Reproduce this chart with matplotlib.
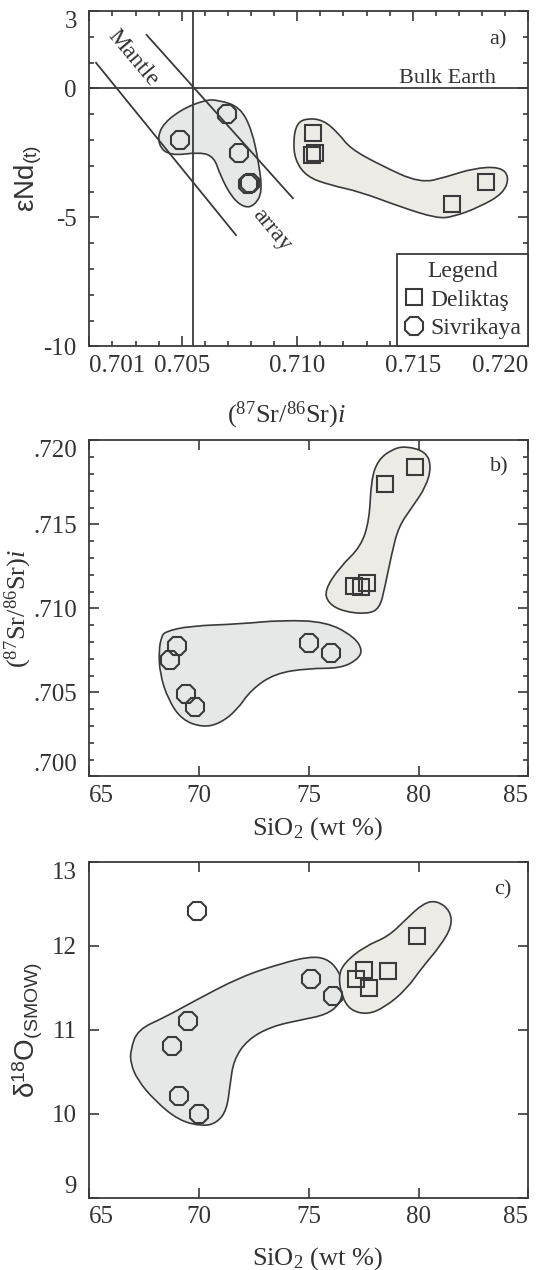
import numpy as np
import matplotlib
matplotlib.use("Agg")
import matplotlib.pyplot as plt
from matplotlib.path import Path
from matplotlib.patches import PathPatch
from matplotlib.ticker import MultipleLocator, FixedLocator, FixedFormatter

plt.rcParams["font.family"] = ["Liberation Serif", "DejaVu Serif"]
plt.rcParams["mathtext.fontset"] = "custom"
plt.rcParams["mathtext.rm"] = "Liberation Serif"
plt.rcParams["mathtext.it"] = "Liberation Serif:italic"
plt.rcParams["mathtext.sf"] = "Liberation Sans"
plt.rcParams["axes.unicode_minus"] = False

INK = "#3a3a3a"
TXT = "#333333"
FILL_SIV = "#e6e8e8"
FILL_DEL = "#ecebe6"

# --- a) initial 87Sr/86Sr vs eNd(t)
deliktas_sr_a = [0.71070, 0.71077, 0.71063, 0.71671, 0.71817]
deliktas_end = [-1.74, -2.52, -2.59, -4.48, -3.62]
sivrikaya_sr_a = [0.70493, 0.70695, 0.70749, 0.70788, 0.70795]
sivrikaya_end = [-2.00, -1.00, -2.52, -3.72, -3.66]

mantle_sr = [[0.70129, 0.70735], [0.70348, 0.70981]]
mantle_end = [[0.99, -5.69], [2.07, -4.26]]
bulk_earth_sr = 0.7055
bulk_earth_end = 0.0

siv_outline_a_x = [0.70657, 0.70752, 0.70804, 0.70835, 0.70848, 0.70817, 0.70774, 0.70718,
                   0.70666, 0.70640, 0.70579, 0.70449, 0.70397, 0.70406, 0.70493, 0.70601]
siv_outline_a_y = [-0.45, -0.72, -1.62, -2.97, -4.02, -4.52, -4.64, -4.25,
                   -3.36, -2.66, -2.47, -2.62, -2.20, -1.50, -0.84, -0.45]
del_outline_a_x = [0.71041, 0.71113, 0.71178, 0.71229, 0.71358, 0.71532, 0.71647, 0.71762,
                   0.71878, 0.71918, 0.71892, 0.71791, 0.71676, 0.71604, 0.71445, 0.71272,
                   0.71142, 0.71041, 0.70990, 0.70983, 0.70998]
del_outline_a_y = [-1.16, -1.23, -1.74, -2.33, -2.97, -3.68, -3.43, -3.10,
                   -3.04, -3.43, -4.07, -4.59, -4.98, -5.04, -4.59, -4.01,
                   -3.75, -3.43, -2.78, -2.00, -1.36]

# --- b) SiO2 vs initial 87Sr/86Sr
deliktas_sio2_b = [77.06, 77.37, 77.64, 78.47, 79.83]
deliktas_sr_b = [0.71135, 0.71128, 0.71150, 0.71740, 0.71843]
sivrikaya_sio2_b = [69.00, 68.68, 69.39, 69.82, 74.99, 75.99]
sivrikaya_sr_b = [0.70777, 0.70692, 0.70490, 0.70411, 0.70792, 0.70736]

siv_outline_b_x = [68.45, 69.54, 71.89, 73.77, 75.81, 77.06, 77.45, 77.21, 76.43, 75.02,
                   73.46, 72.36, 71.73, 70.95, 70.17, 69.23, 68.60, 68.21, 68.17, 68.29]
siv_outline_b_y = [0.70861, 0.70895, 0.70907, 0.70930, 0.70920, 0.70831, 0.70752, 0.70693,
                   0.70643, 0.70643, 0.70613, 0.70514, 0.70395, 0.70315, 0.70292, 0.70335,
                   0.70454, 0.70613, 0.70751, 0.70831]
del_outline_b_x = [79.41, 80.34, 80.58, 80.34, 79.72, 79.09, 78.78, 78.47, 78.23, 77.68,
                   76.59, 75.88, 75.72, 76.43, 77.37, 77.76, 77.84, 78.15, 78.78]
del_outline_b_y = [0.71966, 0.71932, 0.71843, 0.71724, 0.71605, 0.71486, 0.71327, 0.71129,
                   0.71000, 0.70966, 0.70980, 0.71030, 0.71109, 0.71248, 0.71367, 0.71526,
                   0.71764, 0.71882, 0.71946]

# --- c) SiO2 vs d18O
deliktas_sio2_c = [77.17, 77.53, 77.76, 78.59, 79.91]
deliktas_d18o = [11.60, 11.71, 11.50, 11.70, 12.11]
sivrikaya_sio2_c = [69.89, 69.50, 68.76, 69.07, 70.01, 75.10, 76.08]
sivrikaya_d18o = [12.41, 11.10, 10.81, 10.21, 10.00, 11.60, 11.40]

siv_outline_c_x = [66.88, 67.20, 68.45, 69.70, 71.89, 73.77, 75.02, 75.81, 76.35, 76.59,
                   76.43, 75.81, 74.71, 73.30, 72.20, 71.58, 71.42, 71.26, 70.80, 70.17,
                   69.07, 67.97, 67.20, 66.88]
siv_outline_c_y = [10.76, 11.00, 11.15, 11.33, 11.63, 11.79, 11.87, 11.85, 11.71, 11.51,
                   11.31, 11.18, 11.12, 11.04, 10.88, 10.64, 10.36, 10.04, 9.89, 9.85,
                   9.92, 10.16, 10.40, 10.60]
del_outline_c_x = [76.59, 77.53, 78.62, 79.41, 80.19, 80.81, 81.44, 81.52, 80.97, 80.19,
                   79.41, 78.47, 77.68, 76.90, 76.51, 76.35]
del_outline_c_y = [11.79, 11.99, 12.11, 12.31, 12.50, 12.54, 12.42, 12.23, 11.99, 11.75,
                   11.47, 11.27, 11.18, 11.23, 11.39, 11.63]

sio2_ticks = [65, 70, 75, 80, 85]


def blob(ax, xs, ys, color):
    # closed quadratic spline through the outline points
    pts = np.column_stack([xs, ys])
    mids = (pts + np.roll(pts, -1, axis=0)) / 2
    verts = [mids[-1]]
    codes = [Path.MOVETO]
    for p, m in zip(pts, mids):
        verts += [p, m]
        codes += [Path.CURVE3, Path.CURVE3]
    verts.append(mids[-1])
    codes.append(Path.CLOSEPOLY)
    ax.add_patch(PathPatch(Path(verts, codes), facecolor=color, edgecolor=INK,
                           lw=1.2, zorder=1))


def points(ax, x, y, kind, label=None):
    if kind == "sq":
        ax.plot(x, y, ls="none", marker="s", ms=12, mfc="none", mec=INK, mew=1.5,
                zorder=3, label=label)
    else:
        ax.plot(x, y, ls="none", marker="8", ms=13.5, mfc="none", mec=INK, mew=1.5,
                zorder=3, label=label)


def style(ax):
    for s in ax.spines.values():
        s.set_color(INK)
        s.set_linewidth(1.3)
    ax.tick_params(which="both", direction="in", top=True, right=True, colors=INK,
                   labelcolor=TXT, labelsize=18)
    ax.tick_params(which="major", length=7, width=1.2, pad=6)
    ax.tick_params(which="minor", length=3.5, width=1.2)
    ax.tick_params(axis="y", which="major", pad=9)


def end_labels(ax, ytop="top", ybot="bottom"):
    # keep the outermost tick labels inside the frame
    xt = ax.xaxis.get_major_ticks()
    yt = ax.yaxis.get_major_ticks()
    xt[0].label1.set_horizontalalignment("left")
    xt[-1].label1.set_horizontalalignment("right")
    if ytop:
        yt[-1].label1.set_verticalalignment(ytop)
    if ybot:
        yt[0].label1.set_verticalalignment(ybot)


fig = plt.figure(figsize=(5.38, 12.7), dpi=100)
ax_a = fig.add_axes([0.166, 0.7273, 0.816, 0.2641])
ax_b = fig.add_axes([0.166, 0.3887, 0.816, 0.2646])
ax_c = fig.add_axes([0.166, 0.0569, 0.816, 0.2646])

# a)
ax = ax_a
blob(ax, siv_outline_a_x, siv_outline_a_y, FILL_SIV)
blob(ax, del_outline_a_x, del_outline_a_y, FILL_DEL)
for xs, ys in zip(mantle_sr, mantle_end):
    ax.plot(xs, ys, color=INK, lw=1.3, zorder=2)
ax.axhline(bulk_earth_end, color=INK, lw=1.3, zorder=2)
ax.axvline(bulk_earth_sr, color=INK, lw=1.3, zorder=2)
points(ax, deliktas_sr_a, deliktas_end, "sq", "Deliktaş")
points(ax, sivrikaya_sr_a, sivrikaya_end, "oct", "Sivrikaya")
ax.set_xlim(0.701, 0.720)
ax.set_ylim(-10, 3)
ax.xaxis.set_major_locator(FixedLocator([0.701, 0.705, 0.710, 0.715, 0.720]))
ax.xaxis.set_major_formatter(FixedFormatter(["0.701", "0.705", "0.710", "0.715", "0.720"]))
ax.xaxis.set_minor_locator(MultipleLocator(0.001))
ax.yaxis.set_major_locator(FixedLocator([-10, -5, 0, 3]))
ax.yaxis.set_minor_locator(MultipleLocator(1))
style(ax)
end_labels(ax, ybot=None)
ax.text(0.7029, 1.16, "Mantle", rotation=-50, ha="center", va="center",
        fontsize=17, color=TXT)
ax.text(0.70889, -5.49, "array", rotation=-50, ha="center", va="center",
        fontsize=17, color=TXT)
ax.text(0.926, bulk_earth_end, "Bulk Earth", transform=ax.get_yaxis_transform(),
        ha="right", va="bottom", fontsize=16, color=TXT)
ax.text(0.93, 0.913, "a)", transform=ax.transAxes, ha="center", va="center",
        fontsize=16, color=TXT)
leg = ax.legend(title="Legend", loc="lower right", borderaxespad=0, fancybox=False,
                framealpha=1, edgecolor=INK, fontsize=17, title_fontsize=17,
                handlelength=0.8, handletextpad=0.3, borderpad=0.3, labelspacing=0.3)
leg.get_frame().set_linewidth(1.3)
for t in leg.get_texts():
    t.set_color(TXT)
leg.get_title().set_color(TXT)
ax.set_xlabel(r"($^{87}$Sr/$^{86}$Sr)$\mathit{i}$", fontsize=19, color=TXT)
ax.xaxis.set_label_coords(0.45, -0.16)
ax.set_ylabel(r"εNd$_{\mathsf{(t)}}$", fontsize=20, color=TXT,
              fontfamily=["Liberation Sans", "DejaVu Sans"])
ax.yaxis.set_label_coords(-0.103, 0.5)

# b)
ax = ax_b
blob(ax, siv_outline_b_x, siv_outline_b_y, FILL_SIV)
blob(ax, del_outline_b_x, del_outline_b_y, FILL_DEL)
points(ax, deliktas_sio2_b, deliktas_sr_b, "sq")
points(ax, sivrikaya_sio2_b, sivrikaya_sr_b, "oct")
ax.set_xlim(65, 85)
ax.set_ylim(0.700, 0.720)
ax.xaxis.set_major_locator(FixedLocator(sio2_ticks))
ax.yaxis.set_major_locator(FixedLocator([0.700, 0.705, 0.710, 0.715, 0.720]))
ax.yaxis.set_major_formatter(FixedFormatter([".700", ".705", ".710", ".715", ".720"]))
ax.yaxis.set_minor_locator(MultipleLocator(0.001))
style(ax)
end_labels(ax)
ax.text(0.935, 0.921, "b)", transform=ax.transAxes, ha="center", va="center",
        fontsize=16, color=TXT)
ax.set_xlabel(r"SiO$_2$ (wt %)", fontsize=19, color=TXT)
ax.xaxis.set_label_coords(0.52, -0.115)
ax.set_ylabel(r"($^{87}$Sr/$^{86}$Sr)$\mathit{i}$", fontsize=19, color=TXT)
ax.yaxis.set_label_coords(-0.125, 0.5)

# c)
ax = ax_c
blob(ax, siv_outline_c_x, siv_outline_c_y, FILL_SIV)
blob(ax, del_outline_c_x, del_outline_c_y, FILL_DEL)
points(ax, deliktas_sio2_c, deliktas_d18o, "sq")
points(ax, sivrikaya_sio2_c, sivrikaya_d18o, "oct")
ax.set_xlim(65, 85)
ax.set_ylim(9, 13)
ax.xaxis.set_major_locator(FixedLocator(sio2_ticks))
ax.yaxis.set_major_locator(FixedLocator([9, 10, 11, 12, 13]))
style(ax)
end_labels(ax)
ax.text(0.943, 0.916, "c)", transform=ax.transAxes, ha="center", va="center",
        fontsize=16, color=TXT)
ax.set_xlabel(r"SiO$_2$ (wt %)", fontsize=19, color=TXT)
ax.xaxis.set_label_coords(0.52, -0.14)
ax.set_ylabel(r"δ$^{\mathsf{18}}$O$_{\mathsf{(SMOW)}}$", fontsize=20, color=TXT,
              fontfamily=["Liberation Sans", "DejaVu Sans"])
ax.yaxis.set_label_coords(-0.101, 0.5)

fig.savefig("out.png", dpi=100)
